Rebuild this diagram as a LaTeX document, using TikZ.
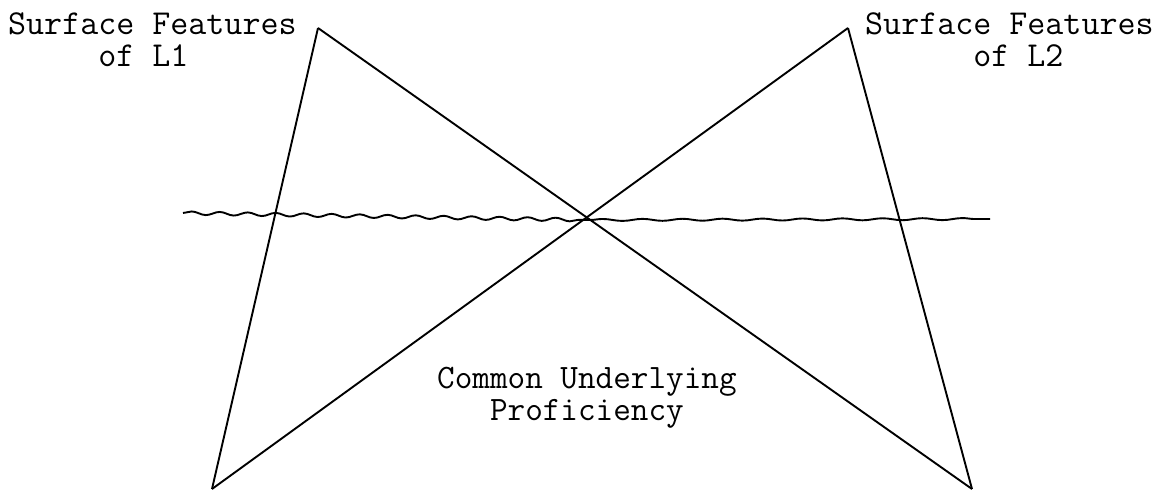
\documentclass[tikz,border=0pt]{standalone}
\usetikzlibrary{decorations.pathmorphing}
\begin{document}
\begin{tikzpicture}[x=1pt,y=-1pt,
  edge/.style={line width=1.9pt,line join=miter},
  wave/.style={line width=1.9pt,decorate,decoration={snake,amplitude=1.7pt,segment length=28pt}},
  wavesoft/.style={line width=1.9pt,decorate,decoration={snake,amplitude=1pt,segment length=40pt}},
  lbl/.style={anchor=base west,inner sep=0pt}]
\useasboundingbox (0,0) rectangle (1163,492);
\coordinate (tl) at (318,28);
\coordinate (tr) at (848,28);
\coordinate (bl) at (212,489);
\coordinate (br) at (972,489);
\coordinate (w0) at (183,213);
\coordinate (w1) at (590,220);
\coordinate (w2) at (990,219);
\draw[edge] (tl) -- (bl);
\draw[edge] (tl) -- (br);
\draw[edge] (tr) -- (bl);
\draw[edge] (tr) -- (br);
\draw[wave] (w0) -- (w1);
\draw[wavesoft] (w1) -- (w2);
\node[lbl] (s1) at (8,35) {\ttfamily\fontsize{35}{32}\selectfont\begin{tabular}[t]{@{}l@{}}Surface Features\\\phantom{xxxxx}of L1\end{tabular}};
\node[lbl] (s2) at (865,35) {\ttfamily\fontsize{35}{32}\selectfont\begin{tabular}[t]{@{}l@{}}Surface Features\\\phantom{xxxxxx}of L2\end{tabular}};
\node[lbl] (c) at (437,388) {\ttfamily\fontsize{34.2}{32.5}\selectfont\begin{tabular}[t]{@{}l@{}}Common Underlying\\\phantom{xxx}Proficiency\end{tabular}};
\end{tikzpicture}
\end{document}
